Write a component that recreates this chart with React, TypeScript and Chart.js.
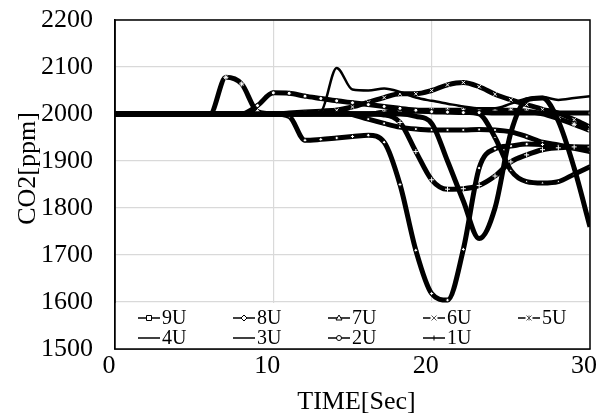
import React, { useEffect, useRef } from 'react';
import { Chart, registerables } from 'chart.js';

Chart.register(...registerables);

// ---- data ----
const TIME = [0, 1, 2, 3, 4, 5, 6, 7, 8, 9, 10, 11, 12, 13, 14, 15, 16, 17, 18, 19, 20, 21, 22, 23, 24, 25, 26, 27, 28, 29, 30];
const SERIES_NAMES = ['9U', '8U', '7U', '6U', '5U', '4U', '3U', '2U', '1U'];

const U9 = [2000, 2000, 2000, 2000, 2000, 2000, 2000, 2000, 2000, 2000, 2000, 2002, 2004, 2006, 2008, 1999, 1989, 1980, 1972, 1968, 1966, 1966, 1966, 1967, 1966, 1962, 1952, 1940, 1934, 1927, 1920];
const U8 = [2000, 2000, 2000, 2000, 2000, 2000, 2000, 2000, 2000, 2000, 2000, 1995, 1944, 1946, 1949, 1952, 1955, 1940, 1850, 1710, 1618, 1604, 1712, 1885, 1926, 1932, 1936, 1935, 1932, 1930, 1928];
const U7 = [2000, 2000, 2000, 2000, 2000, 2000, 2000, 2000, 2000, 2000, 2000, 2000, 2000, 2000, 2000, 2000, 2000, 2003, 2005, 2006, 2006, 2005, 2004, 2000, 1950, 1880, 1856, 1853, 1856, 1872, 1888];
const U6 = [2000, 2000, 2000, 2000, 2000, 2000, 2000, 2000, 2000, 2000, 2000, 2000, 2000, 2003, 2008, 2015, 2025, 2035, 2043, 2043, 2050, 2062, 2067, 2058, 2042, 2030, 2020, 2010, 2002, 1988, 1972];
const U5 = [2000, 2000, 2000, 2000, 2000, 2000, 2000, 2078, 2064, 2005, 2000, 2000, 2000, 2000, 2000, 2000, 2000, 2004, 2008, 2008, 2008, 2008, 2008, 2008, 2008, 2008, 2006, 2000.5, 1990, 1978, 1965];
const U4 = [2000, 2000, 2000, 2000, 2000, 2000, 2000, 2000, 2000, 2000, 2000, 2000, 2000, 2005, 2098, 2052, 2050, 2054, 2047, 2035, 2028, 2022, 2016, 2012, 2012, 2022, 2033, 2036, 2030, 2034, 2038];
const U3 = [2000, 2000, 2000, 2000, 2000, 2000, 2000, 2000, 2000, 2000, 2000, 2000, 2000, 2000, 2000, 2000, 2000, 2000, 2000, 1995, 1980, 1900, 1815, 1735, 1800, 1960, 2030, 2034, 1985, 1885, 1760];
const U2 = [2000, 2000, 2000, 2000, 2000, 2000, 2000, 2000, 2000, 2018, 2045, 2044, 2038, 2033, 2028, 2024, 2020, 2016, 2012, 2008, 2005, 2004, 2003, 2003, 2002, 2002, 2002, 2002, 2002, 2002, 2002];
const U1 = [2000, 2000, 2000, 2000, 2000, 2000, 2000, 2000, 2000, 2000, 2000, 2000, 2000, 2000, 2000, 2000, 2000, 1998, 1982, 1920, 1860, 1840, 1841, 1848, 1868, 1898, 1913, 1924, 1928, 1930, 1930];

const SERIES_VALUES = [U9, U8, U7, U6, U5, U4, U3, U2, U1];

const X_MIN = 0;
const X_MAX = 30;
const X_STEP = 10;
const Y_MIN = 1500;
const Y_MAX = 2200;
const Y_STEP = 100;
const LEGEND_FLOOR = 1600;

// ---- styles ----
const FONT_FAMILY = '"Liberation Serif", "Times New Roman", serif';
const MARKER_STYLE: Record<string, string | false> = {
  '9U': 'rect', '8U': 'rectRot', '7U': 'triangle', '6U': 'crossRot', '5U': 'star',
  '4U': false, '3U': false, '2U': 'circle', '1U': 'cross',
};
const LINE_WIDTH: Record<string, number> = {
  '9U': 5, '8U': 5, '7U': 5, '6U': 5, '5U': 5, '4U': 2.5, '3U': 5, '2U': 5, '1U': 5,
};

function drawMarker(ctx: CanvasRenderingContext2D, style: string, x: number, y: number, r: number) {
  ctx.save();
  ctx.lineWidth = 1;
  ctx.strokeStyle = '#000';
  ctx.fillStyle = '#fff';
  ctx.beginPath();
  switch (style) {
    case 'rect':
      ctx.rect(x - r, y - r, 2 * r, 2 * r);
      ctx.fill(); ctx.stroke();
      break;
    case 'rectRot':
      ctx.moveTo(x, y - r * 1.2); ctx.lineTo(x + r * 1.2, y); ctx.lineTo(x, y + r * 1.2); ctx.lineTo(x - r * 1.2, y); ctx.closePath();
      ctx.fill(); ctx.stroke();
      break;
    case 'triangle':
      ctx.moveTo(x, y - r * 1.2); ctx.lineTo(x + r * 1.2, y + r * 0.8); ctx.lineTo(x - r * 1.2, y + r * 0.8); ctx.closePath();
      ctx.fill(); ctx.stroke();
      break;
    case 'circle':
      ctx.arc(x, y, r, 0, Math.PI * 2);
      ctx.fill(); ctx.stroke();
      break;
    case 'crossRot':
      ctx.fillRect(x - r - 1, y - r - 1, 2 * r + 2, 2 * r + 2);
      ctx.beginPath();
      ctx.moveTo(x - r, y - r); ctx.lineTo(x + r, y + r); ctx.moveTo(x + r, y - r); ctx.lineTo(x - r, y + r);
      ctx.strokeStyle = '#555';
      ctx.stroke();
      break;
    case 'cross':
      ctx.moveTo(x, y - r); ctx.lineTo(x, y + r);
      ctx.stroke();
      break;
    case 'star':
      ctx.fillRect(x - r - 1, y - r - 1, 2 * r + 2, 2 * r + 2);
      ctx.beginPath();
      ctx.moveTo(x - r, y - r); ctx.lineTo(x + r, y + r); ctx.moveTo(x + r, y - r); ctx.lineTo(x - r, y + r);
      ctx.moveTo(x, y - r); ctx.lineTo(x, y + r);
      ctx.strokeStyle = '#555';
      ctx.stroke();
      break;
  }
  ctx.restore();
}

const legendAndFramePlugin = {
  id: 'legendAndFrame',
  afterDatasetsDraw(chart: any) {
    const { ctx, chartArea } = chart;
    const yScale = chart.scales.y;
    const top = yScale.getPixelForValue(LEGEND_FLOOR);
    ctx.save();
    ctx.fillStyle = '#fff';
    ctx.fillRect(chartArea.left, top + 1, chartArea.right - chartArea.left, chartArea.bottom - top - 1);
    ctx.font = `20px ${FONT_FAMILY}`;
    ctx.textBaseline = 'middle';
    ctx.textAlign = 'left';
    SERIES_NAMES.forEach((name, i) => {
      const col = i < 5 ? i : i - 5;
      const row = i < 5 ? 0 : 1;
      const x0 = chartArea.left + 23 + col * 95;
      const y0 = top + 16 + row * 20;
      ctx.strokeStyle = '#000';
      ctx.lineWidth = 1.5;
      ctx.beginPath();
      ctx.moveTo(x0, y0);
      ctx.lineTo(x0 + 22, y0);
      ctx.stroke();
      const m = MARKER_STYLE[name];
      if (m) drawMarker(ctx, m, x0 + 11, y0, 2.5);
      ctx.fillStyle = '#000';
      ctx.fillText(name, x0 + 24, y0 + 1);
    });
    ctx.restore();
  },
  afterDraw(chart: any) {
    const { ctx, chartArea } = chart;
    ctx.save();
    ctx.strokeStyle = '#000';
    ctx.lineWidth = 1.5;
    ctx.strokeRect(chartArea.left, chartArea.top, chartArea.right - chartArea.left, chartArea.bottom - chartArea.top);
    ctx.fillStyle = '#000';
    ctx.font = `26px ${FONT_FAMILY}`;
    ctx.textAlign = 'center';
    ctx.textBaseline = 'middle';
    ctx.fillText('TIME[Sec]', (chartArea.left + chartArea.right) / 2 + 4, chart.height - 12);
    ctx.translate(28, (chartArea.top + chartArea.bottom) / 2 - 16);
    ctx.rotate(-Math.PI / 2);
    ctx.fillText('CO2[ppm]', 0, 0);
    ctx.restore();
  },
};

export default function App() {
  const canvasRef = useRef<HTMLCanvasElement | null>(null);

  useEffect(() => {
    if (!canvasRef.current) return;
    const datasets = SERIES_NAMES.map((name, i) => {
      const values = SERIES_VALUES[i];
      const marker = MARKER_STYLE[name];
      const isStroke = marker === 'cross' || marker === 'crossRot' || marker === 'star';
      return {
        label: name,
        data: TIME.map((t, k) => ({ x: t, y: values[k] })),
        borderColor: '#000',
        backgroundColor: '#000',
        borderWidth: LINE_WIDTH[name],
        cubicInterpolationMode: 'monotone' as const,
        order: SERIES_NAMES.length - i,
        pointStyle: marker || 'circle',
        pointRadius: (c: any) => {
          if (!marker) return 0;
          const v = values[c.dataIndex];
          const last = c.dataIndex === values.length - 1;
          if (!last && Math.abs(v - 2000) <= 2.5) return 0;
          return isStroke ? 2.5 : 2;
        },
        pointBackgroundColor: '#fff',
        pointBorderColor: isStroke ? '#fff' : '#000',
        pointBorderWidth: 1,
        pointHoverRadius: 0,
      };
    });

    const tickFont = { family: FONT_FAMILY, size: 26 };
    const chart = new Chart(canvasRef.current, {
      type: 'line',
      data: { datasets },
      options: {
        animation: false,
        responsive: false,
        devicePixelRatio: 1,
        events: [],
        layout: { padding: { left: 0, right: 9, top: 20, bottom: 0 } },
        plugins: { legend: { display: false }, tooltip: { enabled: false } },
        scales: {
          x: {
            type: 'linear',
            min: X_MIN,
            max: X_MAX,
            ticks: { stepSize: X_STEP, padding: 2, labelOffset: -6, font: tickFont, color: '#000', maxRotation: 0, callback: (v: any) => String(v) },
            grid: { color: '#d9d9d9', lineWidth: 1.2, drawTicks: false },
            border: { color: '#000', width: 1.5 },
            afterFit: (s: any) => { s.height = 65; s.paddingLeft = 0; s.paddingRight = 0; },
          },
          y: {
            type: 'linear',
            min: Y_MIN,
            max: Y_MAX,
            ticks: { stepSize: Y_STEP, padding: 22, font: tickFont, color: '#000', callback: (v: any) => String(v) },
            grid: { color: '#d9d9d9', lineWidth: 1.2, drawTicks: false },
            border: { color: '#000', width: 1.5 },
            afterFit: (s: any) => { s.width = 115; s.paddingTop = 0; s.paddingBottom = 0; },
          },
        },
      } as any,
      plugins: [legendAndFramePlugin],
    });
    return () => chart.destroy();
  }, []);

  return (
    <div style={{ position: 'absolute', left: 0, top: 0, width: 599, height: 414, background: '#fff' }}>
      <canvas ref={canvasRef} width={599} height={414} />
    </div>
  );
}
